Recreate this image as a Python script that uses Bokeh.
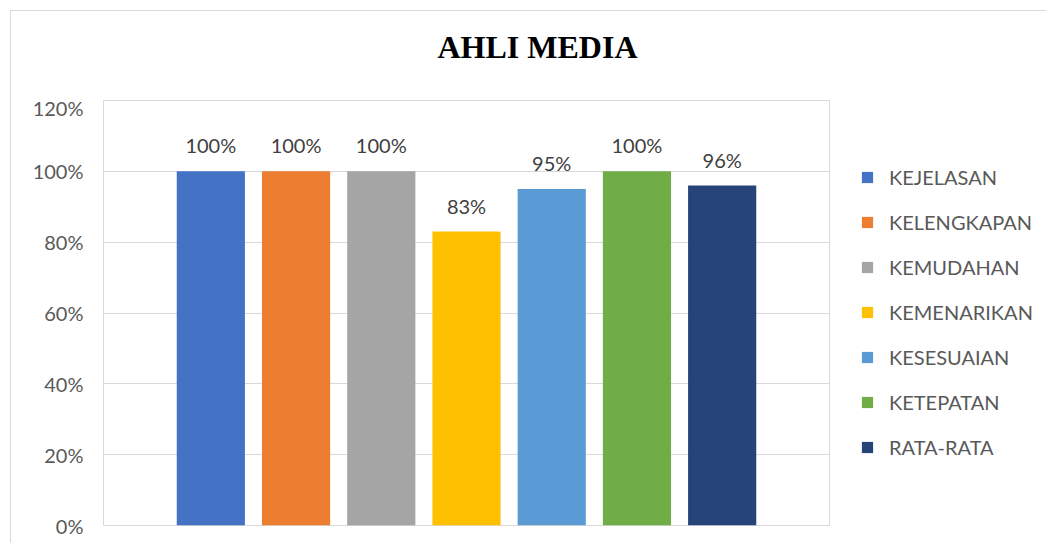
from bokeh.plotting import figure
from bokeh.layouts import column, row
from bokeh.models import (ColumnDataSource, FactorRange, Range1d, Legend, LegendItem,
                          LabelSet, Label, NumeralTickFormatter, FixedTicker)
from bokeh.core.properties import value
from bokeh.embed import file_html
from bokeh.resources import INLINE

categories = ["KEJELASAN", "KELENGKAPAN", "KEMUDAHAN", "KEMENARIKAN",
              "KESESUAIAN", "KETEPATAN", "RATA-RATA"]
values = [1.00, 1.00, 1.00, 0.83, 0.95, 1.00, 0.96]
labels = ["100%", "100%", "100%", "83%", "95%", "100%", "96%"]
colors = ["#4472C4", "#ED7D31", "#A5A5A5", "#FFC000", "#5B9BD5", "#70AD47", "#264478"]
y_ticks = [0, 0.2, 0.4, 0.6, 0.8, 1.0, 1.2]
title_text = "AHLI MEDIA"

src = ColumnDataSource(dict(cat=categories, val=values, lbl=labels, color=colors))

FONT = "Lato"

# ---- title strip ----
pt = figure(width=1035, height=84, output_backend="svg", toolbar_location=None,
            x_range=Range1d(0, 1035), y_range=Range1d(0, 84),
            min_border=0, outline_line_color=None)
pt.axis.visible = False
pt.grid.visible = False
pt.add_layout(Label(text=title_text, x=526, y=49, text_align="center",
                    text_baseline="alphabetic", text_font="Liberation Serif",
                    text_font_size="32px", text_font_style="bold", text_color="#000000"))

# ---- main chart ----
p = figure(width=830, height=448, output_backend="svg", toolbar_location=None,
           x_range=FactorRange(*categories, range_padding=0.217),
           y_range=Range1d(0, 1.2),
           min_border_left=92, min_border_right=12, min_border_top=5, min_border_bottom=18)

r = p.vbar(x="cat", top="val", width=0.8, fill_color="color", line_color=None, source=src)

ls = LabelSet(x="cat", y="val", text="lbl", source=src, text_align="center",
              text_baseline="alphabetic", y_offset=18, text_font=value(FONT),
              text_font_size=value("20px"), text_color="#404040")
p.add_layout(ls)

p.xaxis.visible = False
p.xgrid.grid_line_color = None
p.ygrid.grid_line_color = "#d9d9d9"
p.ygrid.ticker = FixedTicker(ticks=y_ticks)
p.yaxis.ticker = FixedTicker(ticks=y_ticks)
p.yaxis.formatter = NumeralTickFormatter(format="0%")
p.yaxis.axis_line_color = None
p.yaxis.major_tick_line_color = None
p.yaxis.minor_tick_line_color = None
p.yaxis.major_tick_out = 0
p.yaxis.major_tick_in = 0
p.yaxis.major_label_standoff = 20
p.yaxis.major_label_text_font = FONT
p.yaxis.major_label_text_font_size = "20px"
p.yaxis.major_label_text_color = "#595959"
p.outline_line_color = "#d9d9d9"
p.outline_line_width = 1

# ---- legend panel ----
pl = figure(width=205, height=448, output_backend="svg", toolbar_location=None,
            x_range=FactorRange(*categories), y_range=Range1d(5, 6),
            min_border=0, outline_line_color=None)
pl.axis.visible = False
pl.grid.visible = False
rl = pl.vbar(x="cat", top="val", width=0.8, fill_color="color", line_color=None, source=src)
rl.visible = False

legend = Legend(items=[LegendItem(label=dict(field="cat"), renderers=[rl])],
                location=(19, 66), orientation="vertical",
                glyph_width=14, glyph_height=14, label_height=20, spacing=21,
                label_standoff=15, padding=0, margin=0,
                inactive_fill_alpha=0,
                border_line_color=None, background_fill_alpha=0,
                label_text_font=FONT, label_text_font_size="20px",
                label_text_color="#595959")
pl.add_layout(legend, "center")

layout = column(pt, row(p, pl))
layout.styles = {"border-top": "1px solid #d9d9d9", "border-left": "1px solid #d9d9d9",
                 "margin-top": "10px", "margin-left": "10px"}

open("out.html", "w").write(file_html(layout, INLINE))
